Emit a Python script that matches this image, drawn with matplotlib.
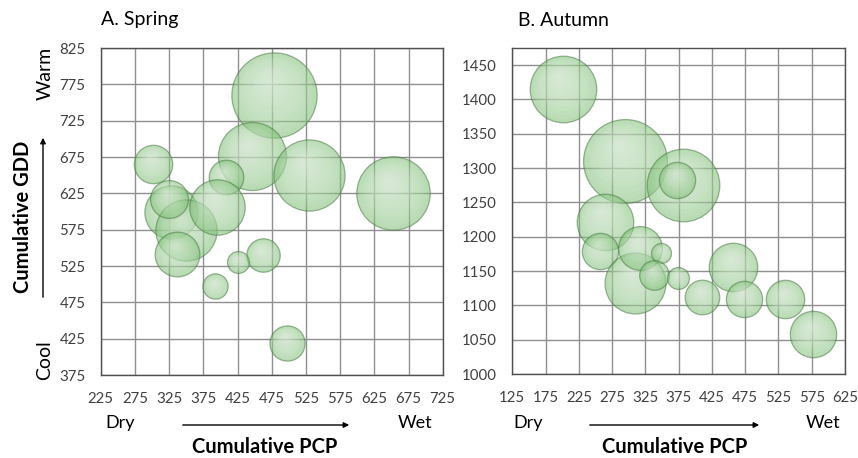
import numpy as np
from matplotlib import pyplot as plt
from matplotlib.transforms import offset_copy

# Spring bubbles: cumulative PCP, cumulative GDD, bubble size
spring_pcp = [478, 446, 529, 652, 301, 408, 328, 349, 325, 337, 395, 462, 426, 392, 497]
spring_gdd = [761, 676, 651, 625, 666, 647, 600, 575, 617, 542, 607, 540, 531, 497, 419]
spring_size = [182, 116, 127, 135, 37, 30, 71, 94, 36, 50, 77, 28, 12, 16, 31]

# Autumn bubbles
autumn_pcp = [201, 294, 382, 373, 264, 257, 310, 317, 349, 338, 374, 410, 457, 473, 535, 577]
autumn_gdd = [1415, 1311, 1275, 1283, 1222, 1179, 1133, 1183, 1177, 1144, 1140, 1113, 1156, 1110, 1109, 1058]
autumn_size = [111, 176, 132, 33, 80, 33, 93, 48, 10, 22, 12, 30, 59, 33, 37, 54]

spring_xticks = list(range(225, 726, 50))
spring_yticks = list(range(375, 826, 50))
autumn_xticks = list(range(125, 626, 50))
autumn_yticks = list(range(1000, 1451, 50))

SIZE_SCALE = 20.7  # size value -> points^2

FONT = 'Lato'
plt.rcParams['font.family'] = [FONT, 'DejaVu Sans']


def px(x, y):
    return x / 858.0, 1.0 - y / 458.0


def draw_bubbles(fig, ax, xs, ys, sizes):
    for x, y, v in zip(xs, ys, sizes):
        s = v * SIZE_SCALE
        r = np.sqrt(s) / 2.0
        ax.scatter([x], [y], s=s, facecolor='#7fbf76', edgecolor='#4a7a45',
                   linewidth=0.9, alpha=0.55, zorder=3)
        for k in np.linspace(0.92, 0.12, 10):
            f = (1.0 - k) / 0.88
            tr = offset_copy(ax.transData, fig=fig, x=-0.12 * r * f,
                             y=0.33 * r * f, units='points')
            ax.scatter([x], [y], s=s * k * k, color='white', alpha=0.065,
                       linewidth=0, transform=tr, zorder=3)


def style_axes(ax, xticks, yticks, xlim, ylim):
    ax.set_xlim(*xlim)
    ax.set_ylim(*ylim)
    ax.set_xticks(xticks)
    ax.set_yticks(yticks)
    ax.set_axisbelow(True)
    ax.grid(True, color='#8f8f8f', linewidth=1.0)
    ax.tick_params(length=0, labelsize=10.8, labelcolor='#404040')
    ax.tick_params(axis='x', pad=12)
    ax.tick_params(axis='y', pad=11)
    for sp in ax.spines.values():
        sp.set_color('#505050')
        sp.set_linewidth(1.0)


fig = plt.figure(figsize=(8.58, 4.58), dpi=100)
ax1 = fig.add_axes([0.1174, 0.181, 0.3986, 0.714])
ax2 = fig.add_axes([0.5971, 0.183, 0.3878, 0.7125])

style_axes(ax1, spring_xticks, spring_yticks, (225, 725), (375, 825))
style_axes(ax2, autumn_xticks, autumn_yticks, (125, 625), (1000, 1475))

draw_bubbles(fig, ax1, spring_pcp, spring_gdd, spring_size)
draw_bubbles(fig, ax2, autumn_pcp, autumn_gdd, autumn_size)

# titles
fig.text(*px(101, 20), 'A. Spring', fontsize=14, va='center', ha='left')
fig.text(*px(518, 20), 'B. Autumn', fontsize=14, va='center', ha='left')

# y axis annotation (spring)
fig.text(*px(23, 217), 'Cumulative GDD', fontsize=14.5, fontweight='bold',
         rotation=90, ha='center', va='center')
fig.text(*px(45, 73), 'Warm', fontsize=14, rotation=90, ha='center', va='center')
fig.text(*px(45, 360), 'Cool', fontsize=14, rotation=90, ha='center', va='center')
ax1.annotate('', xy=px(43, 135), xytext=px(43, 300), xycoords='figure fraction',
             textcoords='figure fraction', annotation_clip=False,
             arrowprops=dict(arrowstyle='-|>', color='black', lw=1.0, mutation_scale=8))

# x axis annotations
for ax, dry_x, a0, a1, wet_x, lab_x in [(ax1, 120, 180, 352, 415, 265),
                                        (ax2, 528, 587, 762, 823, 675)]:
    fig.text(*px(dry_x, 423), 'Dry', fontsize=13, ha='center', va='center')
    fig.text(*px(wet_x, 423), 'Wet', fontsize=13, ha='center', va='center')
    fig.text(*px(lab_x, 447), 'Cumulative PCP', fontsize=14.5, fontweight='bold',
             ha='center', va='center')
    ax.annotate('', xy=px(a1, 425), xytext=px(a0, 425), xycoords='figure fraction',
                textcoords='figure fraction', annotation_clip=False,
                arrowprops=dict(arrowstyle='-|>', color='black', lw=1.0, mutation_scale=8))

plt.savefig('out.png', dpi=100)
